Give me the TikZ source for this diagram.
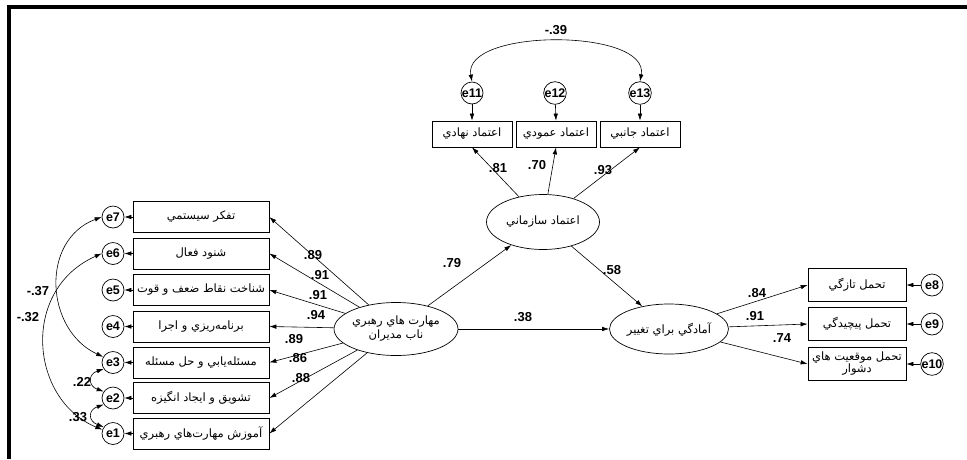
\documentclass[tikz,border=0pt]{standalone}
\usepackage{fontspec}
\setmainfont{Liberation Sans}
\newfontfamily\arabicfont[Script=Arabic]{DejaVu Sans}
\TeXXeTstate=1
\usetikzlibrary{arrows.meta,shapes.geometric}
\newcommand{\rtltext}[1]{\beginR #1\endR}
\begin{document}
\begin{tikzpicture}[x=1pt,y=-1pt,
  ind/.style={draw, line width=0.7pt, minimum width=136pt, minimum height=31pt, inner sep=0pt, font=\arabicfont\fontsize{11.5}{13}\selectfont},
  tind/.style={ind, minimum width=80pt, minimum height=26pt},
  rind/.style={ind, minimum width=98pt, minimum height=33pt, align=center, font=\arabicfont\fontsize{11.5}{12}\selectfont},
  err/.style={circle, draw, line width=0.7pt, minimum size=22pt, inner sep=0pt, font=\fontsize{12.5}{14}\selectfont\bfseries},
  lat/.style={ellipse, draw, line width=0.7pt, minimum width=115pt, minimum height=52pt, inner sep=0pt, align=center, font=\arabicfont\fontsize{11.5}{14}\selectfont},
  lbl/.style={font=\fontsize{13}{15}\selectfont\bfseries, inner sep=0pt},
  arr/.style={-{Latex[length=7pt,width=4.5pt]}, line width=0.6pt},
  cov/.style={{Latex[length=7pt,width=4.5pt]}-{Latex[length=7pt,width=4.5pt]}, line width=0.6pt}]
\useasboundingbox (0,0) rectangle (967,459);
\fill[black] (7,5) rectangle (967,9);
\fill[black] (7,5) rectangle (11,459);

% left indicators
\node[ind] (b1) at (201,217) {\rtltext{تفكر سيستمي}};
\node[ind] (b2) at (201,253.5) {\rtltext{شنود فعال}};
\node[ind] (b3) at (201,290) {\rtltext{شناخت نقاط ضعف و قوت}};
\node[ind] (b4) at (201,326.5) {\rtltext{برنامه‌ريزي و اجرا}};
\node[ind] (b5) at (201,362.5) {\rtltext{مسئله‌يابي و حل مسئله}};
\node[ind] (b6) at (201,398) {\rtltext{تشويق و ايجاد انگيزه}};
\node[ind] (b7) at (201,433.5) {\rtltext{آموزش مهارت‌هاي رهبري}};

\node[err] (e7) at (113,217) {e7};
\node[err] (e6) at (113,253.5) {e6};
\node[err] (e5) at (113,290) {e5};
\node[err] (e4) at (113,326.5) {e4};
\node[err] (e3) at (113,362.5) {e3};
\node[err] (e2) at (113,398) {e2};
\node[err] (e1) at (113,433.5) {e1};

\foreach \b/\e in {b1/e7,b2/e6,b3/e5,b4/e4,b5/e3,b6/e2,b7/e1}
  \draw[arr] (\b.west) -- (\e);

% latents
\node[lat, minimum height=53pt] (L1) at (396,329) {\rtltext{مهارت هاي رهبري}\\\rtltext{ناب مديران}};
\node[lat, minimum width=113pt, minimum height=55pt] (L2) at (543,222) {\rtltext{اعتماد سازماني}};
\node[lat, minimum height=50pt] (L3) at (669,329) {\rtltext{آمادگي براي تغيير}};

% top indicators
\node[tind] (t1) at (472,134) {\rtltext{اعتماد نهادي}};
\node[tind] (t2) at (556,134) {\rtltext{اعتماد عمودي}};
\node[tind] (t3) at (640,134) {\rtltext{اعتماد جانبي}};
\node[err] (e11) at (472,93) {e11};
\node[err] (e12) at (555,93) {e12};
\node[err] (e13) at (640,93) {e13};
\draw[arr] (e11) -- (t1.north);
\draw[arr] (e12) -- (t2.north);
\draw[arr] (e13) -- (t3.north);

% right indicators
\node[rind] (r1) at (857,285) {\rtltext{تحمل تازگي}};
\node[rind] (r2) at (857,324) {\rtltext{تحمل پيچيدگي}};
\node[rind] (r3) at (857,364) {\rtltext{تحمل موقعيت هاي}\\\rtltext{دشوار}};
\node[err] (e8) at (932,285) {e8};
\node[err] (e9) at (932,324) {e9};
\node[err] (e10) at (932,364) {e10};
\draw[arr] (e8) -- (r1.east);
\draw[arr] (e9) -- (r2.east);
\draw[arr] (e10) -- (r3.east);

% loadings
\foreach \b in {b1,b2,b3,b4,b5,b6,b7}
  \draw[arr] (L1) -- (\b.east);
\draw[arr] (L2) -- (t1.south);
\draw[arr] (L2) -- (t2.south);
\draw[arr] (L2) -- (t3.south);
\draw[arr] (L3) -- (r1.west);
\draw[arr] (L3) -- (r2.west);
\draw[arr] (L3) -- (r3.west);
\draw[arr] (L1) -- (L2);
\draw[arr] (L2) -- (L3);
\draw[arr] (L1) -- (L3);

% covariances
\draw[cov] (e11.north) .. controls (462,28) and (650,28) .. (e13.north);
\draw[cov] (e7.west) .. controls (40,240) and (45,330) .. (e3.150);
\draw[cov] (e6.west) .. controls (20,290) and (30,400) .. (e1.160);
\draw[cov] (e3.215) .. controls (88,374) and (88,386) .. (e2.145);
\draw[cov] (e2.215) .. controls (88,410) and (88,421) .. (e1.145);

% labels
\node[lbl] (n1) at (313,255) {.89};
\node[lbl] (n2) at (320,275) {.91};
\node[lbl] (n3) at (318,295) {.91};
\node[lbl] (n4) at (316,315) {.94};
\node[lbl] (n5) at (294,339) {.89};
\node[lbl] (n6) at (298,358) {.86};
\node[lbl] (n7) at (301,378) {.88};
\node[lbl] (n8) at (452,263) {.79};
\node[lbl] (n9) at (612,270) {.58};
\node[lbl] (n10) at (523,317) {.38};
\node[lbl] (n11) at (498,168) {.81};
\node[lbl] (n12) at (537,165) {.70};
\node[lbl] (n13) at (603,170) {.93};
\node[lbl] (n14) at (757,293) {.84};
\node[lbl] (n15) at (755,316) {.91};
\node[lbl] (n16) at (782,338) {.74};
\node[lbl] (n17) at (556,30) {-.39};
\node[lbl] (n18) at (38,291) {-.37};
\node[lbl] (n19) at (28,317) {-.32};
\node[lbl] (n20) at (82,382) {.22};
\node[lbl] (n21) at (78,417) {.33};
\end{tikzpicture}
\end{document}
